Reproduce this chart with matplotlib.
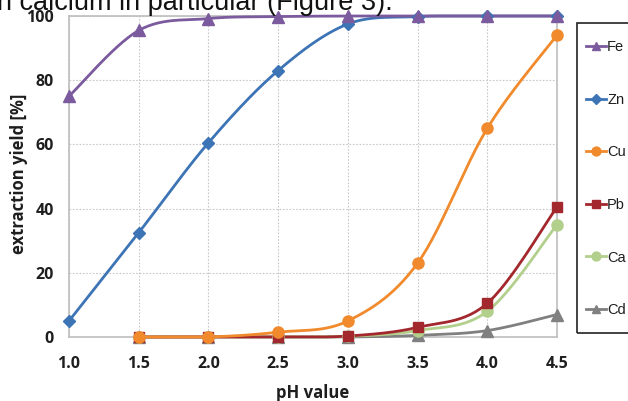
import numpy as np
import matplotlib
matplotlib.use("Agg")
import matplotlib.pyplot as plt
from matplotlib.patches import Rectangle
from matplotlib.lines import Line2D

ph_all = [1.0, 1.5, 2.0, 2.5, 3.0, 3.5, 4.0, 4.5]
ph_low = [1.5, 2.0, 2.5, 3.0, 3.5, 4.0, 4.5]

fe = [75, 95.5, 99.2, 99.8, 100, 100, 100, 100]
zn = [5, 32.5, 60.5, 83, 97.5, 99.8, 100, 100]
cu = [0, 0, 1.5, 5, 23, 65, 94]
pb = [0, 0, 0, 0.3, 3, 10.5, 40.5]
ca = [0, 0, 0, 0.2, 2, 8, 35]
cd = [0, 0, 0, 0, 0.5, 2, 7]

series = [
    ("Fe", ph_all, fe, "#7B5A9E", "^", 8),
    ("Zn", ph_all, zn, "#3D74B6", "D", 6),
    ("Cu", ph_low, cu, "#F08A2C", "o", 8),
    ("Pb", ph_low, pb, "#A3282E", "s", 7),
    ("Ca", ph_low, ca, "#B2CF8C", "o", 8),
    ("Cd", ph_low, cd, "#808080", "^", 8),
]

xticks = [1.0, 1.5, 2.0, 2.5, 3.0, 3.5, 4.0, 4.5]
yticks = [0, 20, 40, 60, 80, 100]


def smooth(x, y, n=30):
    x = np.asarray(x, float)
    y = np.asarray(y, float)
    P = np.column_stack([x, y])
    m = len(P)
    out = []
    t = np.linspace(0, 1, n)
    for i in range(m - 1):
        p0 = P[i - 1] if i > 0 else P[i]
        p1 = P[i]
        p2 = P[i + 1]
        p3 = P[i + 2] if i + 2 < m else P[i + 1]
        c1 = p1 + (p2 - p0) / 6.0
        c2 = p2 - (p3 - p1) / 6.0
        b = ((1 - t) ** 3)[:, None] * p1 + (3 * (1 - t) ** 2 * t)[:, None] * c1 \
            + (3 * (1 - t) * t ** 2)[:, None] * c2 + (t ** 3)[:, None] * p2
        out.append(b if i == 0 else b[1:])
    B = np.vstack(out)
    return B[:, 0], np.clip(B[:, 1], 0, 100)


fig = plt.figure(figsize=(6.28, 4.01), dpi=100)
ax = fig.add_axes([69 / 628, 1 - 337 / 401, (557 - 69) / 628, (337 - 16) / 401])

grid_c = "#C8C8C8"
spine_c = "#BEBEBE"
txt_c = "#1E1E1E"

handles = []
for name, xs, ys, col, mk, ms in reversed(series):
    sx, sy = smooth(xs, ys)
    ax.plot(sx, sy, color=col, lw=2.0, solid_capstyle="round", zorder=3, clip_on=False)
    ax.plot(xs, ys, ls="none", marker=mk, ms=ms, color=col, mec=col, zorder=4, clip_on=False)

for name, xs, ys, col, mk, ms in series:
    handles.append(Line2D([0], [0], color=col, lw=2.0, marker=mk, ms=ms * 0.8, mec=col, label=name))

ax.set_xlim(1.0, 4.5)
ax.set_ylim(0, 100)
ax.set_xticks(xticks)
ax.set_xticklabels([f"{v:.1f}" for v in xticks])
ax.set_yticks(yticks)
ax.grid(True, color=grid_c, ls=(0, (1.5, 1.5)), lw=0.8)
ax.set_axisbelow(True)
for s in ax.spines.values():
    s.set_color(spine_c)
    s.set_linewidth(1.2)
ax.tick_params(length=0, labelsize=11.5, colors=txt_c)
ax.tick_params(axis="x", pad=14)
ax.tick_params(axis="y", pad=11)
for lab in ax.get_xticklabels() + ax.get_yticklabels():
    lab.set_fontweight("bold")
    lab.set_family("Open Sans")

fig.text(313 / 628, 1 - 393 / 401, "pH value", ha="center", va="center",
         fontsize=12, fontweight="bold", family="Open Sans", color=txt_c)
fig.text(19 / 628, 1 - 174 / 401, "extraction yield [%]", ha="center", va="center",
         rotation=90, fontsize=12, fontweight="bold", family="Open Sans", color=txt_c)

fig.text(-3 / 628, 1 - 10 / 401, "n calcium in particular (Figure 3).", ha="left",
         va="baseline", fontsize=19.5, family="Liberation Sans", color="#111111")

# legend frame
fig.patches.append(Rectangle((577 / 628, 1 - 333 / 401), 0.2, (333 - 23) / 401,
                             transform=fig.transFigure, fill=False, ec="#222222", lw=1.2))
leg = fig.legend(handles=handles, loc="upper left", bbox_to_anchor=(586 / 628, 1 - 40 / 401),
                 frameon=False, handlelength=1.4, handletextpad=0.05,
                 labelspacing=2.65, borderpad=0, borderaxespad=0,
                 prop={"family": "Liberation Sans", "size": 10.5})
for t in leg.get_texts():
    t.set_color(txt_c)

fig.savefig("out.png", dpi=100)
